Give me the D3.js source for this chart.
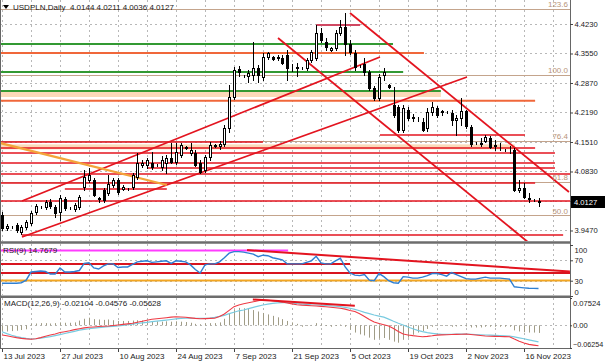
<!DOCTYPE html>
<html>
<head>
<meta charset="utf-8">
<script src="https://cdnjs.cloudflare.com/ajax/libs/d3/7.8.5/d3.min.js"></script>
<style>
  body { margin: 0; background: #fff; }
  svg { display: block; font-family: "Liberation Sans", Arial, sans-serif; }
</style>
</head>
<body>
<svg id="chart" width="605" height="363"></svg>
<script>
// ---- data ----
// daily bars incl. the short Sunday sessions, 13 Jul 2023 .. 20 Nov 2023
const dates = [];
for (let d = new Date(2023, 6, 13); dates.length < 112; d.setDate(d.getDate() + 1)) {
  if (d.getDay() !== 6) dates.push(new Date(d));
}

const open = [
  3.9827, 3.9528, 3.9551, 3.9597, 3.9435, 3.9551, 3.9643, 3.9896, 4.0012, 4.0012,
  4.0127, 4.0012, 3.9896, 4.0196, 3.9989, 3.9965, 4.0012, 4.0473, 4.0634, 4.0634,
  4.0196, 4.0403, 4.0334, 4.0518, 4.0634, 4.0426, 4.0426, 4.0472, 4.0703, 4.0980,
  4.0980, 4.1026, 4.0980, 4.0934, 4.1026, 4.1141, 4.1049, 4.1210, 4.1394, 4.1256,
  4.1256, 4.1026, 4.0864, 4.1164, 4.1440, 4.1417, 4.1463, 4.1832, 4.2548, 4.3193,
  4.3032, 4.3032, 4.3055, 4.3216, 4.3009, 4.3469, 4.3469, 4.3446, 4.3446, 4.3515,
  4.3216, 4.3216, 4.3216, 4.3216, 4.3400, 4.3446, 4.4023, 4.3815, 4.3631, 4.3677,
  4.4023, 4.4161, 4.3769, 4.3562, 4.3262, 4.3308, 4.3124, 4.2755, 4.2524, 4.3055,
  4.2824, 4.2363, 4.2317, 4.1786, 4.2247, 4.2086, 4.2040, 4.1971, 4.1832, 4.2201,
  4.2294, 4.2201, 4.2201, 4.2178, 4.2017, 4.2063, 4.2224, 4.1855, 4.1486, 4.1486,
  4.1532, 4.1601, 4.1417, 4.1394, 4.1325, 4.1325, 4.1318, 4.0403, 4.0449, 4.0219,
  4.0173, 4.0144
];
const high = [
  3.9896, 3.9620, 3.9574, 3.9643, 3.9597, 3.9712, 3.9919, 4.0081, 4.0035, 4.0173,
  4.0196, 4.0058, 4.0288, 4.0242, 4.0012, 4.0104, 4.0288, 4.0864, 4.0910, 4.0680,
  4.0242, 4.0449, 4.0749, 4.0680, 4.0680, 4.0518, 4.0449, 4.0795, 4.1256, 4.1095,
  4.1141, 4.1279, 4.1003, 4.1187, 4.1210, 4.1486, 4.1486, 4.1486, 4.1417, 4.1486,
  4.1325, 4.1095, 4.1210, 4.1509, 4.1463, 4.1532, 4.1901, 4.2824, 4.3239, 4.3262,
  4.3055, 4.3170, 4.3815, 4.3285, 4.3562, 4.3585, 4.3492, 4.3515, 4.3515, 4.3631,
  4.3308, 4.3331, 4.3239, 4.3446, 4.3631, 4.4207, 4.4138, 4.3907, 4.3700, 4.4092,
  4.4322, 4.4484, 4.3861, 4.3631, 4.3285, 4.3446, 4.3170, 4.2801, 4.3078, 4.3216,
  4.2847, 4.2778, 4.2363, 4.2363, 4.2317, 4.2155, 4.2086, 4.2063, 4.2294, 4.2432,
  4.2340, 4.2247, 4.2224, 4.2247, 4.2132, 4.2524, 4.2247, 4.1901, 4.1509, 4.1601,
  4.1671, 4.1648, 4.1556, 4.1486, 4.1348, 4.1417, 4.1371, 4.0634, 4.0564, 4.0334,
  4.0196, 4.0211
];
const low = [
  3.9481, 3.9481, 3.9528, 3.9435, 3.9389, 3.9505, 3.9597, 3.9850, 3.9989, 3.9965,
  3.9989, 3.9781, 3.9712, 3.9942, 3.9965, 3.9919, 3.9965, 4.0403, 4.0588, 4.0265,
  4.0127, 4.0127, 4.0288, 4.0472, 4.0311, 4.0403, 4.0403, 4.0426, 4.0657, 4.0934,
  4.0911, 4.0888, 4.0957, 4.0864, 4.0795, 4.1026, 4.1003, 4.1164, 4.1348, 4.1210,
  4.0957, 4.0795, 4.0818, 4.1095, 4.1394, 4.1348, 4.1417, 4.1740, 4.2502, 4.3032,
  4.3009, 4.2893, 4.2939, 4.2893, 4.2939, 4.3423, 4.3400, 4.3400, 4.3308, 4.2939,
  4.3147, 4.3032, 4.3193, 4.3170, 4.3354, 4.3400, 4.3815, 4.3631, 4.3608, 4.3631,
  4.3976, 4.3515, 4.3538, 4.3170, 4.3239, 4.3055, 4.2709, 4.2478, 4.2478, 4.2939,
  4.2755, 4.2086, 4.1740, 4.1740, 4.2017, 4.1994, 4.1994, 4.1763, 4.1763, 4.2132,
  4.2086, 4.2132, 4.2178, 4.1901, 4.1671, 4.1901, 4.1832, 4.1417, 4.1463, 4.1417,
  4.1509, 4.1371, 4.1325, 4.1325, 4.1302, 4.1256, 4.0380, 4.0357, 4.0219, 4.0127,
  4.0150, 4.0036
];
const close = [
  3.9528, 3.9574, 3.9551, 3.9481, 3.9551, 3.9666, 3.9873, 4.0035, 4.0012, 4.0127,
  4.0035, 3.9873, 4.0219, 3.9989, 3.9989, 4.0058, 4.0242, 4.0703, 4.0749, 4.0288,
  4.0219, 4.0173, 4.0541, 4.0634, 4.0357, 4.0472, 4.0426, 4.0749, 4.1026, 4.1026,
  4.1095, 4.0934, 4.0980, 4.1095, 4.1141, 4.1049, 4.1279, 4.1440, 4.1371, 4.1325,
  4.0980, 4.0818, 4.1164, 4.1440, 4.1417, 4.1463, 4.1832, 4.2548, 4.3170, 4.3124,
  4.3032, 4.3101, 4.3216, 4.3055, 4.3469, 4.3562, 4.3423, 4.3469, 4.3331, 4.3216,
  4.3210, 4.3239, 4.3210, 4.3400, 4.3585, 4.4023, 4.3861, 4.3700, 4.3677, 4.4023,
  4.4161, 4.3769, 4.3585, 4.3239, 4.3262, 4.3124, 4.2755, 4.2524, 4.3009, 4.3124,
  4.2778, 4.2132, 4.1786, 4.2294, 4.2063, 4.2063, 4.2040, 4.1786, 4.2201, 4.2317,
  4.2132, 4.2224, 4.2201, 4.2017, 4.2063, 4.2224, 4.1878, 4.1463, 4.1486, 4.1463,
  4.1625, 4.1394, 4.1440, 4.1390, 4.1320, 4.1318, 4.0403, 4.0449, 4.0242, 4.0196,
  4.0165, 4.0127
];

const rsi = [
  25, 25, 25, 25, 26, 31, 47, 48, 49, 48,
  43, 43, 55, 47, 47, 48, 50, 64, 65, 55,
  53, 59, 63, 63, 56, 57, 57, 62, 67, 68,
  69, 66, 67, 68, 69, 64, 69, 68, 67, 61,
  52, 45, 61, 63, 63, 67, 75, 84, 87, 87,
  86, 84, 82, 77, 80, 79, 75, 73, 71, 63,
  63, 63, 63, 66, 69, 78, 65, 63, 63, 69,
  74, 57, 45, 41, 40, 42, 31, 30, 44, 38,
  30, 26, 25, 38, 37, 35, 35, 37, 40, 44,
  44, 42, 39, 46, 42, 38, 34, 33, 33, 35,
  37, 35, 35, 35, 34, 33, 18, 17, 16, 15.1,
  15, 14.7679
];

const macd = [
  -0.0267, -0.0290, -0.0315, -0.0340, -0.0360, -0.0375, -0.0386, -0.0370, -0.0340, -0.0300,
  -0.0267, -0.0240, -0.0200, -0.0176, -0.0150, -0.0120, -0.0095, -0.0070, -0.0055, -0.0045,
  -0.0035, -0.0025, -0.0019, -0.0005, 0.0010, 0.0025, 0.0040, 0.0055, 0.0085, 0.0110,
  0.0140, 0.0165, 0.0180, 0.0195, 0.0210, 0.0225, 0.0237, 0.0230, 0.0220, 0.0205,
  0.0190, 0.0182, 0.0185, 0.0190, 0.0193, 0.0240, 0.0311, 0.0410, 0.0513, 0.0560,
  0.0595, 0.0623, 0.0650, 0.0675, 0.0697, 0.0690, 0.0675, 0.0655, 0.0640, 0.0615,
  0.0590, 0.0565, 0.0555, 0.0548, 0.0540, 0.0532, 0.0522, 0.0510, 0.0498, 0.0485,
  0.0472, 0.0445, 0.0410, 0.0380, 0.0320, 0.0245, 0.0160, 0.0090, 0.0050, 0.0015,
  -0.0019, -0.0090, -0.0170, -0.0240, -0.0265, -0.0285, -0.0300, -0.0314, -0.0305, -0.0290,
  -0.0270, -0.0265, -0.0260, -0.0255, -0.0250, -0.0245, -0.0240, -0.0255, -0.0268, -0.0282,
  -0.0295, -0.0300, -0.0304, -0.0308, -0.0311, -0.0314, -0.0380, -0.0440, -0.0490, -0.0525,
  -0.0545, -0.05628
];
const signal = [
  -0.0176, -0.0230, -0.0275, -0.0314, -0.0340, -0.0362, -0.0378, -0.0370, -0.0355, -0.0335,
  -0.0314, -0.0285, -0.0255, -0.0225, -0.0195, -0.0165, -0.0135, -0.0110, -0.0095, -0.0080,
  -0.0065, -0.0050, -0.0038, -0.0028, -0.0019, -0.0002, 0.0015, 0.0032, 0.0050, 0.0067,
  0.0083, 0.0099, 0.0115, 0.0130, 0.0145, 0.0160, 0.0175, 0.0190, 0.0195, 0.0195,
  0.0194, 0.0193, 0.0193, 0.0200, 0.0220, 0.0245, 0.0275, 0.0320, 0.0360, 0.0400,
  0.0422, 0.0460, 0.0495, 0.0530, 0.0559, 0.0585, 0.0605, 0.0620, 0.0623, 0.0623,
  0.0610, 0.0595, 0.0585, 0.0575, 0.0566, 0.0560, 0.0555, 0.0545, 0.0535, 0.0525,
  0.0513, 0.0495, 0.0470, 0.0440, 0.0400, 0.0355, 0.0320, 0.0285, 0.0255, 0.0225,
  0.0170, 0.0110, 0.0055, 0.0008, -0.0045, -0.0095, -0.0140, -0.0176, -0.0200, -0.0220,
  -0.0238, -0.0248, -0.0248, -0.0246, -0.0244, -0.0242, -0.0240, -0.0247, -0.0254, -0.0260,
  -0.0267, -0.0273, -0.0279, -0.0285, -0.0290, -0.0295, -0.0320, -0.0345, -0.0370, -0.0400,
  -0.0430, -0.04576
];
const hist = [
  -0.018, -0.017, -0.016, -0.015, -0.013, -0.011, 0.004, 0.005, 0.006, 0.006,
  0.005, 0.006, 0.008, 0.007, 0.007, 0.008, 0.013, 0.018, 0.021, 0.017,
  0.016, 0.015, 0.016, 0.014, 0.012, 0.012, 0.012, 0.013, 0.014, 0.013,
  0.012, 0.011, 0.011, 0.010, 0.011, 0.010, 0.011, 0.010, 0.009, 0.007,
  0.004, 0.003, 0.005, 0.006, 0.006, 0.008, 0.018, 0.032, 0.043, 0.048,
  0.047, 0.045, 0.042, 0.038, 0.034, 0.030, 0.026, 0.022, 0.017, 0.012,
  0.008, 0.004, -0.004, -0.002, 0.001, 0.006, 0.003, -0.002, -0.004, -0.002,
  0.002, -0.004, -0.012, -0.020, -0.025, -0.028, -0.034, -0.040, -0.036, -0.035,
  -0.040, -0.045, -0.048, -0.040, -0.034, -0.026, -0.020, -0.016, -0.010, -0.004,
  -0.002, -0.002, -0.002, -0.004, -0.003, -0.002, -0.003, -0.006, -0.006, -0.006,
  -0.004, -0.004, -0.004, -0.004, -0.004, -0.004, -0.014, -0.017, -0.019, -0.020,
  -0.020, -0.02104
];

const tickLabels = ["13 Jul 2023", "27 Jul 2023", "10 Aug 2023", "24 Aug 2023", "7 Sep 2023",
  "21 Sep 2023", "5 Oct 2023", "19 Oct 2023", "2 Nov 2023", "16 Nov 2023"];
const priceTicks = [4.4230, 4.3550, 4.2870, 4.2190, 4.1510, 4.0830, 4.0150, 3.9470];
const rsiTicks = [100, 70, 30, 0];
const macdTicks = [0.07524, 0, -0.06254];

// drawn objects (price levels / bar index spans)
const fibLevels = [
  { label: "123.6", p: 4.4576 }, { label: "100.0", p: 4.3055 }, { label: "76.4", p: 4.1533 },
  { label: "61.8", p: 4.0588 }, { label: "50.0", p: 3.9827 }
];
const greenLevels = [{ p: 4.3768, a: -1, b: 80.9 }, { p: 4.3124, a: -1, b: 83 }, { p: 4.2685, a: -1, b: 90.8 }];
const orangeLevels = [{ p: 4.3561, a: -1, b: 87.3 }, { p: 4.2462, a: -1, b: 110.3 }];
const zones = [{ p1: 4.2662, p2: 4.2547, a: -1, b: 90.8 }, { p1: 4.1455, p2: 4.1340, a: -1, b: 106.1 }];
const redLevels = [
  { p: 4.1671, a: 78.2, b: 108.2 }, { p: 4.1510, a: -1, b: 54 }, { p: 4.1372, a: -1, b: 110.3 },
  { p: 4.1257, a: -1, b: 114.4 }, { p: 4.1026, a: -1, b: 114.4 }, { p: 4.0911, a: 30.2, b: 114.4 },
  { p: 4.0772, a: -1, b: 120 }, { p: 4.0565, a: -1, b: 110.3 }, { p: 4.0426, a: 13, b: 34.1 },
  { p: 4.0150, a: -1, b: 120 }, { p: 3.9366, a: 4.1, b: 116.1 }
];
const redTrends = [
  [[4.14, 4.0150], [78.2, 4.3469]],
  [[4.14, 3.9320], [96.2, 4.3008]],
  [[57.1, 4.3907], [108.8, 3.9205]],
  [[72, 4.4484], [117.3, 4.0357]]
];
const orangeTrend = [[-0.41, 4.1487], [34.1, 4.0518]];
const topSegment = [[65, 4.4207], [74.1, 4.4207]];
const rsiMagenta = { v: 89, a: -1, b: 59.2 };
const rsiTrend = [[50.7, 90], [117.5, 48]];
const rsiRedLevels = [{ v: 62.7, a: -1, b: 72 }, { v: 45, a: -1, b: 120 }];
const rsiOrangeLevel = 30.4;
const macdTrend = [[51.9, 0.0711], [73, 0.0540]];

// ---- layout ----
const svg = d3.select("#chart");
const plotR = 570;
const x = d3.scaleLinear().domain([0, 108]).range([2, 524]);
const yP = d3.scaleLinear().domain([3.9251, 4.4783]).range([240, 0]);
const yR = d3.scaleLinear().domain([0, 100]).range([296, 245]);
const yM = d3.scaleLinear().domain([-0.06254, 0.07524]).range([348, 298]);
const fmtDate = d3.timeFormat("%-d %b %Y");
const n = close.length;

svg.append("rect").attr("width", 605).attr("height", 363).attr("fill", "#fff");

const defs = svg.append("defs");
function clip(id, y0, y1) {
  defs.append("clipPath").attr("id", id).append("rect")
    .attr("x", 1).attr("y", y0).attr("width", plotR - 1).attr("height", y1 - y0);
  return svg.append("g").attr("clip-path", `url(#${id})`);
}
const gMain = clip("cMain", 0, 241);
const gRsi = clip("cRsi", 244, 295);
const gMacd = clip("cMacd", 298, 348);

const gridStyle = sel => sel.attr("stroke", "#b8b8b8").attr("stroke-width", 1).attr("stroke-dasharray", "2,3");
const snap = v => Math.round(v) + 0.5;

// vertical grid, one line per week
const gridIdx = d3.range(0, 120, 6);
[[gMain, 0, 241], [gRsi, 244, 295], [gMacd, 298, 348]].forEach(([g, y0, y1]) => {
  g.selectAll(null).data(gridIdx).join("line")
    .attr("x1", d => snap(x(d))).attr("x2", d => snap(x(d)))
    .attr("y1", y0).attr("y2", y1).call(gridStyle);
});
gMain.selectAll(null).data(priceTicks).join("line")
  .attr("x1", 0).attr("x2", plotR).attr("y1", d => snap(yP(d))).attr("y2", d => snap(yP(d))).call(gridStyle);
gRsi.selectAll(null).data([70, 30]).join("line")
  .attr("x1", 0).attr("x2", plotR).attr("y1", d => snap(yR(d))).attr("y2", d => snap(yR(d))).call(gridStyle);
gMacd.append("line").attr("x1", 0).attr("x2", plotR)
  .attr("y1", snap(yM(0))).attr("y2", snap(yM(0))).call(gridStyle);

// ---- main panel objects ----
gMain.selectAll(null).data(zones).join("rect")
  .attr("x", d => x(d.a)).attr("width", d => x(d.b) - x(d.a))
  .attr("y", d => yP(d.p1)).attr("height", d => yP(d.p2) - yP(d.p1))
  .attr("fill", "#fbd9b9");

gMain.selectAll(null).data(fibLevels).join("line")
  .attr("x1", 0).attr("x2", plotR).attr("y1", d => snap(yP(d.p))).attr("y2", d => snap(yP(d.p)))
  .attr("stroke", "#c4a48c").attr("stroke-width", 1);

function levels(g, data, y, color, w) {
  g.selectAll(null).data(data).join("line")
    .attr("x1", d => x(d.a)).attr("x2", d => x(d.b))
    .attr("y1", d => y(d.p ?? d.v)).attr("y2", d => y(d.p ?? d.v))
    .attr("stroke", color).attr("stroke-width", w);
}
levels(gMain, greenLevels, yP, "#339933", 2);
levels(gMain, orangeLevels, yP, "#f0673a", 2);
levels(gMain, redLevels, yP, "#e3141f", 1.6);

function seg(g, pts, y, color, w) {
  g.append("line")
    .attr("x1", x(pts[0][0])).attr("y1", y(pts[0][1]))
    .attr("x2", x(pts[1][0])).attr("y2", y(pts[1][1]))
    .attr("stroke", color).attr("stroke-width", w);
}
redTrends.forEach(t => seg(gMain, t, yP, "#e3141f", 1.8));
seg(gMain, orangeTrend, yP, "#f3a43a", 2.2);
seg(gMain, topSegment, yP, "#d04862", 2);

// candles
const bars = gMain.selectAll("g.bar").data(d3.range(n)).join("g").attr("class", "bar");
bars.append("line")
  .attr("x1", i => snap(x(i))).attr("x2", i => snap(x(i)))
  .attr("y1", i => Math.round(yP(high[i]))).attr("y2", i => Math.round(yP(low[i])) + 1)
  .attr("stroke", "#000").attr("stroke-width", 1);
bars.append("rect")
  .attr("x", i => Math.round(x(i)) - 0.5)
  .attr("y", i => Math.round(yP(Math.max(open[i], close[i]))) + 0.5)
  .attr("width", 2)
  .attr("height", i => Math.max(Math.round(yP(Math.min(open[i], close[i]))) - Math.round(yP(Math.max(open[i], close[i]))), 0))
  .attr("fill", i => close[i] >= open[i] ? "#fff" : "#000")
  .attr("stroke", "#000").attr("stroke-width", 1);

// fib labels
svg.selectAll(null).data(fibLevels).join("text")
  .attr("x", 568).attr("y", d => yP(d.p) - 1.5)
  .attr("text-anchor", "end").attr("font-size", 8).attr("fill", "#b89478")
  .text(d => d.label);

// ---- RSI panel ----
levels(gRsi, [rsiMagenta], yR, "#ff3cff", 2);
levels(gRsi, rsiRedLevels, yR, "#d8141f", 2);
gRsi.append("line").attr("x1", 0).attr("x2", plotR)
  .attr("y1", yR(rsiOrangeLevel)).attr("y2", yR(rsiOrangeLevel))
  .attr("stroke", "#f2a623").attr("stroke-width", 2);
seg(gRsi, rsiTrend, yR, "#e3141f", 2);
gRsi.append("path").datum(rsi)
  .attr("d", d3.line().x((d, i) => x(i)).y(d => yR(d)))
  .attr("fill", "none").attr("stroke", "#2f7fd2").attr("stroke-width", 1.4);

// ---- MACD panel ----
gMacd.selectAll(null).data(hist).join("line")
  .attr("x1", (d, i) => snap(x(i))).attr("x2", (d, i) => snap(x(i)))
  .attr("y1", yM(0)).attr("y2", d => yM(d))
  .attr("stroke", "#a09c86").attr("stroke-width", 1);
gMacd.append("path").datum(signal)
  .attr("d", d3.line().x((d, i) => x(i)).y(d => yM(d)))
  .attr("fill", "none").attr("stroke", "#79cbe0").attr("stroke-width", 1.2);
gMacd.append("path").datum(macd)
  .attr("d", d3.line().x((d, i) => x(i)).y(d => yM(d)))
  .attr("fill", "none").attr("stroke", "#ee3b45").attr("stroke-width", 1.1);
seg(gMacd, macdTrend, yM, "#e3141f", 2);

// ---- frames ----
const frame = svg.append("g").attr("stroke", "#666").attr("fill", "none");
frame.append("line").attr("x1", 0.5).attr("x2", 0.5).attr("y1", 0).attr("y2", 349);
frame.append("line").attr("x1", plotR + 0.5).attr("x2", plotR + 0.5).attr("y1", 0).attr("y2", 349);
frame.append("line").attr("x1", 0).attr("x2", plotR + 1).attr("y1", 242.5).attr("y2", 242.5).attr("stroke-width", 2.5).attr("stroke", "#6d6d6d");
frame.append("line").attr("x1", 0).attr("x2", plotR + 1).attr("y1", 296.8).attr("y2", 296.8).attr("stroke-width", 2.5).attr("stroke", "#6d6d6d");
frame.append("line").attr("x1", 0).attr("x2", plotR + 1).attr("y1", 348.5).attr("y2", 348.5);

// ---- axes ----
function styleAxis(g) {
  g.select(".domain").remove();
  g.selectAll(".tick line").attr("stroke", "#444");
  g.selectAll("text").attr("font-size", 7.6).attr("fill", "#1a1a1a")
    .attr("font-family", "Liberation Sans, Arial, sans-serif");
}
svg.append("g").attr("transform", `translate(${plotR},0)`)
  .call(d3.axisRight(yP).tickValues(priceTicks).tickSize(3).tickPadding(1.5).tickFormat(d3.format(".4f")))
  .call(styleAxis);

const rsiAxis = svg.append("g").attr("transform", `translate(${plotR},0)`)
  .call(d3.axisRight(yR).tickValues(rsiTicks).tickSize(3).tickPadding(1.5).tickFormat(d3.format("d")))
  .call(styleAxis);
rsiAxis.selectAll(".tick text").attr("dy", d => d === 100 ? "0.95em" : d === 0 ? "-0.25em" : "0.32em");

const macdAxis = svg.append("g").attr("transform", `translate(${plotR},0)`)
  .call(d3.axisRight(yM).tickValues(macdTicks).tickSize(2).tickPadding(1)
    .tickFormat(d => d === 0 ? "0.00" : d3.format(".5f")(d)))
  .call(styleAxis);
macdAxis.selectAll(".tick text").attr("dy", d => d > 0 ? "0.95em" : d < 0 ? "-0.2em" : "0.32em");
macdAxis.selectAll(".tick text").filter(d => d < 0).attr("font-size", 7.2);

const tickIdx = tickLabels.map(l => dates.findIndex(d => fmtDate(d) === l));
const xAxis = svg.append("g").attr("transform", "translate(0,349)")
  .call(d3.axisBottom(x).tickValues(tickIdx).tickSize(3).tickPadding(1).tickFormat((d, k) => tickLabels[k]))
  .call(styleAxis);
xAxis.selectAll(".tick text").attr("text-anchor", "start").attr("x", 1).attr("font-size", 8);

// current price marker
const last = close[n - 1];
svg.append("rect").attr("x", plotR + 1).attr("y", Math.round(yP(last)) - 6)
  .attr("width", 34).attr("height", 12).attr("fill", "#000");
svg.append("text").attr("x", plotR + 4).attr("y", yP(last)).attr("dy", "0.33em")
  .attr("font-size", 7.6).attr("fill", "#fff").text(d3.format(".4f")(last));

// ---- captions ----
svg.append("path").attr("d", "M3,5 L9,5 L6,9 Z").attr("fill", "#000");
svg.append("text").attr("x", 13).attr("y", 10).attr("font-size", 8).attr("fill", "#1a1a1a")
  .attr("xml:space", "preserve")
  .text(`USDPLN,Daily  ${d3.format(".4f")(open[n - 1])} ${d3.format(".4f")(high[n - 1])} ${d3.format(".4f")(low[n - 1])} ${d3.format(".4f")(last)}`);
svg.append("text").attr("x", 3).attr("y", 253).attr("font-size", 8).attr("fill", "#1a1a1a")
  .text(`RSI(9) ${rsi[n - 1].toFixed(4)}`);
svg.append("text").attr("x", 4).attr("y", 306).attr("font-size", 8).attr("fill", "#1a1a1a")
  .text(`MACD(12,26,9) ${hist[n - 1].toFixed(5)} ${signal[n - 1].toFixed(5)} ${macd[n - 1].toFixed(5)}`);
</script>
</body>
</html>
